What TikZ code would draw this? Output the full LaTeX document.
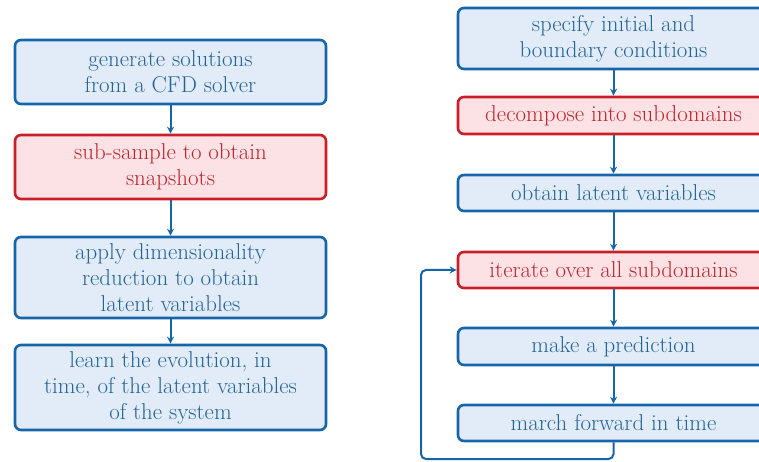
\documentclass[tikz,border=0pt]{standalone}
\usetikzlibrary{arrows.meta}
\definecolor{bstroke}{RGB}{22,100,170}
\definecolor{bfill}{RGB}{226,236,248}
\definecolor{btext}{RGB}{36,100,150}
\definecolor{rstroke}{RGB}{200,32,40}
\definecolor{rfill}{RGB}{252,226,228}
\definecolor{rtext}{RGB}{190,36,46}
\tikzset{
  bluebox/.style={draw=bstroke, fill=bfill, text=btext, line width=2.6bp, rounded corners=6bp,
    minimum width=311bp, align=center, inner sep=0pt, font=\fontsize{23}{26}\selectfont},
  redbox/.style={bluebox, draw=rstroke, fill=rfill, text=rtext},
  flow/.style={draw=bstroke, line width=2bp, -{Stealth[length=7bp,width=7bp]}},
}
\begin{document}
\begin{tikzpicture}[x=1bp,y=-1bp]
\useasboundingbox (0,0) rectangle (759,462);
\clip (0,0) rectangle (759,462);
% left column
\node[bluebox, minimum height=64bp] (l1) at (170.5,72) {generate solutions\\from a CFD solver};
\node[redbox, minimum height=64bp] (l2) at (170.5,167) {sub-sample to obtain\\snapshots};
\node[bluebox, minimum height=81bp] (l3) at (170.5,277.5) {apply dimensionality\\reduction to obtain\\latent variables};
\node[bluebox, minimum height=85bp] (l4) at (170.5,387.5) {learn the evolution, in\\time, of the latent variables\\of the system};
\draw[flow] (l1) -- (l2);
\draw[flow] (l2) -- (l3);
\draw[flow] (l3) -- (l4);
% right column
\node[bluebox, minimum height=61bp] (r1) at (613.5,38.5) {specify initial and\\boundary conditions};
\node[redbox, minimum height=37bp] (r2) at (613.5,115.5) {decompose into subdomains};
\node[bluebox, minimum height=36bp] (r3) at (613.5,193) {obtain latent variables};
\node[redbox, minimum height=36bp] (r4) at (613.5,270) {iterate over all subdomains};
\node[bluebox, minimum height=37bp] (r5) at (613.5,346.5) {make a prediction};
\node[bluebox, minimum height=36bp] (r6) at (613.5,423) {march forward in time};
\coordinate (lb) at (421,459);
\draw[flow] (r1) -- (r2);
\draw[flow] (r2) -- (r3);
\draw[flow] (r3) -- (r4);
\draw[flow] (r4) -- (r5);
\draw[flow] (r5) -- (r6);
\draw[flow, rounded corners=5bp] (r6.south) |- (lb) |- (r4.west);
\end{tikzpicture}
\end{document}
